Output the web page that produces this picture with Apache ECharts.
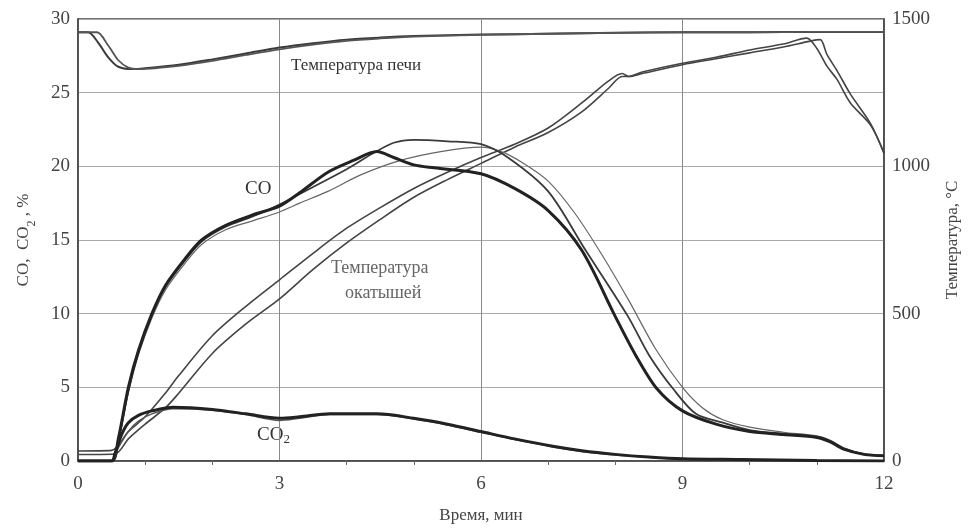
<!DOCTYPE html>
<html>
<head>
<meta charset="utf-8">
<script src="https://cdn.jsdelivr.net/npm/echarts@6/dist/echarts.min.js"></script>
<style>html,body{margin:0;padding:0;background:#fff}#c{width:973px;height:529px}</style>
</head>
<body>
<div id="c"></div>
<script>
// x ticks (min)
const xTicks = [0, 3, 6, 9, 12];
// Furnace temperature, °C (two records)
const furnace1 = [[0,1455],[0.15,1455],[0.3,1420],[0.45,1370],[0.6,1338],[0.8,1330],[1.0,1333],[1.5,1345],[2,1363],[2.5,1383],[3,1403],[3.5,1418],[4,1430],[4.5,1437],[5,1442],[6,1447],[7,1450],[8,1453],[9,1455],[10,1455],[11,1456],[12,1456]];
const furnace2 = [[0,1455],[0.28,1455],[0.45,1410],[0.6,1360],[0.75,1335],[0.9,1330],[1.2,1334],[1.5,1341],[2,1358],[2.5,1378],[3,1397],[3.5,1413],[4,1426],[4.5,1434],[5,1440],[6,1446],[7,1450],[8,1453],[9,1455],[10,1455],[11,1456],[12,1456]];
// Pellet temperature, °C
const pelletA = [[0,34],[0.5,36],[0.75,100],[1.0,150],[1.3,230],[1.5,290],[2,425],[2.5,525],[3,615],[3.5,705],[4,790],[4.5,860],[5,925],[5.5,980],[6,1030],[6.5,1075],[7,1130],[7.5,1215],[7.9,1290],[8.1,1315],[8.2,1305],[8.4,1320],[9,1350],[9.5,1370],[10,1395],[10.5,1415],[10.85,1435],[11.0,1400],[11.15,1340],[11.3,1295],[11.5,1215],[11.8,1140],[12,1045]];
const pelletB = [[0,22],[0.55,24],[0.75,75],[1.0,125],[1.3,180],[1.5,230],[2,365],[2.5,465],[3,550],[3.5,650],[4,740],[4.5,820],[5,895],[5.5,955],[6,1010],[6.5,1065],[7,1115],[7.5,1185],[7.9,1265],[8.1,1305],[8.2,1305],[8.4,1315],[9,1345],[9.5,1365],[10,1385],[10.5,1405],[10.9,1425],[11.05,1430],[11.15,1380],[11.3,1325],[11.5,1245],[11.8,1145],[12,1045]];
// CO, %
const coExp = [[0,0],[0.5,0],[0.6,1.5],[0.75,5.0],[0.9,7.5],[1.1,10.0],[1.3,11.9],[1.59,13.7],[1.84,15.0],[2.2,16.0],[2.6,16.7],[3.0,17.3],[3.3,18.2],[3.72,19.6],[4.1,20.4],[4.45,21.0],[4.7,20.6],[5.0,20.1],[5.3,19.9],[6.0,19.5],[6.5,18.5],[7.0,17.0],[7.5,14.3],[8.0,9.8],[8.3,7.2],[8.62,4.9],[9.0,3.4],[9.5,2.5],[10,2.0],[10.5,1.8],[11,1.6],[11.2,1.3],[11.4,0.8],[11.7,0.45],[12,0.35]];
const coCalc1 = [[0,0],[0.5,0],[0.6,1.4],[0.75,4.8],[0.9,7.4],[1.1,9.9],[1.3,11.8],[1.59,13.6],[1.84,14.9],[2.2,15.9],[2.6,16.6],[3.0,17.4],[3.5,18.6],[4.0,19.8],[4.4,20.9],[4.7,21.6],[5.0,21.8],[5.5,21.7],[6.0,21.5],[6.4,20.6],[7.0,18.3],[7.55,14.35],[8.19,9.8],[8.5,7.2],[8.86,4.9],[9.2,3.2],[9.6,2.6],[10,2.1],[10.5,1.85],[11,1.65],[11.2,1.35],[11.4,0.85],[11.7,0.45],[12,0.35]];
const coCalc2 = [[0,0],[0.5,0],[0.6,1.3],[0.75,4.6],[0.9,7.2],[1.1,9.7],[1.3,11.6],[1.59,13.4],[1.84,14.7],[2.2,15.7],[2.6,16.3],[3.0,16.9],[3.3,17.5],[3.72,18.3],[4.2,19.4],[4.8,20.4],[5.4,21.0],[6.0,21.3],[6.3,21.0],[6.6,20.3],[7.0,19.0],[7.4,16.8],[7.8,14.0],[8.2,10.9],[8.6,7.6],[9.0,5.0],[9.3,3.6],[9.6,2.8],[10,2.3],[10.5,1.95],[11,1.7],[11.2,1.4],[11.4,0.9],[11.7,0.5],[12,0.4]];
// CO2, %
const co2Exp = [[0,0],[0.5,0],[0.55,0.5],[0.65,1.8],[0.75,2.6],[0.9,3.1],[1.1,3.4],[1.42,3.65],[2.0,3.5],[2.5,3.2],[3.0,2.9],[3.3,3.0],[3.75,3.2],[4.45,3.2],[5.0,2.9],[5.5,2.5],[6.0,2.0],[6.5,1.5],[7.07,1.0],[7.5,0.7],[8.0,0.45],[8.5,0.27],[9.0,0.15],[9.86,0.1],[11,0.03],[12,0]];
const co2Calc = [[0,0],[0.5,0],[0.6,0.9],[0.75,2.0],[0.9,2.7],[1.1,3.2],[1.42,3.55],[2.0,3.45],[2.5,3.15],[3.0,2.75],[3.3,2.9],[3.75,3.15],[4.45,3.15],[5.0,2.85],[5.5,2.45],[6.0,1.95],[6.5,1.45],[7.07,0.95],[7.5,0.65],[8.0,0.4],[8.5,0.25],[9.0,0.13],[9.86,0.08],[11,0.02],[12,0]];

const FONT = 'Liberation Serif';
const chart = echarts.init(document.getElementById('c'));
function line(data, width, color, yIdx) {
  return {type:'line', data, yAxisIndex:yIdx, showSymbol:false, smooth:0.3, silent:true,
    lineStyle:{width, color}, z: 3};
}
chart.setOption({
  animation:false,
  backgroundColor:'#fff',
  grid:{left:78,right:89,top:19,bottom:67,show:true,borderColor:'#444',borderWidth:1.5,backgroundColor:'transparent'},
  xAxis:{type:'value',min:0,max:12,interval:3,
    axisLine:{show:true,lineStyle:{color:'#444',width:1.5}},
    axisTick:{show:false},
    minorTick:{show:true,splitNumber:3,length:4,lineStyle:{color:'#666'}},
    axisLabel:{fontFamily:FONT,fontSize:19,color:'#444',margin:14,formatter:v=>xTicks.includes(v)?String(v):''},
    splitLine:{show:true,lineStyle:{color:'#8a8a8a',width:1}},
    name:'Время, мин',nameLocation:'middle',nameGap:46,
    nameTextStyle:{fontFamily:FONT,fontSize:17,color:'#444'}},
  yAxis:[
    {type:'value',min:0,max:30,interval:5,position:'left',
      axisLine:{show:true,lineStyle:{color:'#444',width:1.5}},
      axisTick:{show:false},
      axisLabel:{fontFamily:FONT,fontSize:19,color:'#444',margin:8},
      splitLine:{show:true,lineStyle:{color:'#aaa',width:1}},
      name:'CO,  CO{s|2} , %',nameLocation:'middle',nameGap:46,nameRotate:90,
      nameTextStyle:{fontFamily:FONT,fontSize:17,color:'#444',rich:{s:{fontFamily:FONT,fontSize:12,color:'#444',verticalAlign:'bottom',padding:[0,0,-6,0]}}}},
    {type:'value',min:0,max:1500,interval:500,position:'right',
      axisLine:{show:true,lineStyle:{color:'#444',width:1.5}},
      axisTick:{show:false},
      axisLabel:{fontFamily:FONT,fontSize:19,color:'#444',margin:8,formatter:v=>String(v)},
      splitLine:{show:false},
      name:'Температура, °C',nameLocation:'middle',nameGap:60,nameRotate:90,
      nameTextStyle:{fontFamily:FONT,fontSize:17,color:'#444'}}
  ],
  series:[
    line(furnace1,2,'#3a3a3a',1),
    line(furnace2,1.8,'#555',1),
    line(pelletA,1.6,'#444',1),
    line(pelletB,1.6,'#444',1),
    line(coCalc2,1.2,'#666',0),
    line(coCalc1,1.8,'#3a3a3a',0),
    line(coExp,3,'#222',0),
    line(co2Calc,1.5,'#555',0),
    line(co2Exp,3,'#222',0)
  ],
  graphic:[
    {type:'text',left:291,top:57,style:{text:'Температура печи',fontFamily:FONT,fontSize:17,fill:'#333'}},
    {type:'text',left:245,top:180,style:{text:'CO',fontFamily:FONT,fontSize:19,fill:'#333'}},
    {type:'text',left:331,top:259,style:{text:'Температура',fontFamily:FONT,fontSize:18,fill:'#666'}},
    {type:'text',left:345,top:284,style:{text:'окатышей',fontFamily:FONT,fontSize:18,fill:'#666'}},
    {type:'text',left:257,top:426,style:{text:'CO{s|2}',fontFamily:FONT,fontSize:19,fill:'#333',rich:{s:{fontFamily:FONT,fontSize:13,fill:'#333',padding:[8,0,0,0]}}}}
  ]
});
</script>
</body>
</html>
